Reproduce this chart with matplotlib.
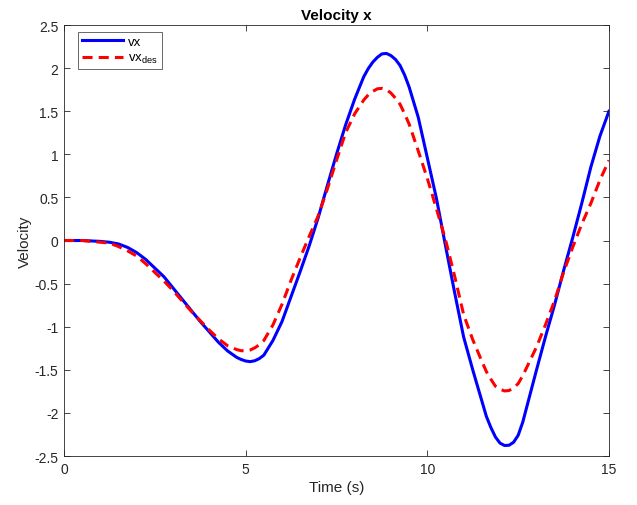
import matplotlib.pyplot as plt

# values (extra samples near the extremes)
t = [0.0, 0.25, 0.5, 0.75, 1.0, 1.25, 1.5, 1.75, 2.0, 2.25,
     2.5, 2.75, 3.0, 3.25, 3.5, 3.75, 4.0, 4.25, 4.5, 4.75,
     4.875, 5.0, 5.125, 5.25, 5.375, 5.5, 5.75, 6.0, 6.25, 6.5,
     6.75, 7.0, 7.25, 7.5, 7.75, 8.0, 8.25, 8.375, 8.5, 8.625,
     8.75, 8.875, 9.0, 9.125, 9.25, 9.375, 9.5, 9.75, 10.0, 10.25,
     10.5, 10.75, 11.0, 11.25, 11.5, 11.625, 11.75, 11.875, 12.0, 12.125,
     12.25, 12.375, 12.5, 12.625, 12.75, 13.0, 13.25, 13.5, 13.75, 14.0,
     14.25, 14.5, 14.75, 15.0]

vx = [0.00, 0.00, 0.00, -0.005, -0.01, -0.02, -0.04, -0.08, -0.14, -0.22,
      -0.32, -0.42, -0.55, -0.68, -0.81, -0.94, -1.06, -1.18, -1.28, -1.355,
      -1.38, -1.398, -1.405, -1.395, -1.37, -1.33, -1.16, -0.94, -0.65, -0.36,
      -0.06, 0.27, 0.64, 1.00, 1.34, 1.64, 1.90, 1.995, 2.07, 2.125,
      2.165, 2.17, 2.145, 2.10, 2.03, 1.92, 1.78, 1.43, 0.96, 0.49,
      -0.06, -0.60, -1.12, -1.50, -1.86, -2.04, -2.17, -2.28, -2.35, -2.378,
      -2.375, -2.34, -2.26, -2.11, -1.91, -1.51, -1.12, -0.75, -0.35, 0.03,
      0.43, 0.85, 1.21, 1.50]

vx_des = [0.00, 0.00, 0.00, -0.01, -0.02, -0.03, -0.07, -0.12, -0.18, -0.27,
          -0.37, -0.47, -0.58, -0.70, -0.82, -0.93, -1.04, -1.14, -1.22, -1.265,
          -1.278, -1.28, -1.27, -1.245, -1.21, -1.16, -0.98, -0.74, -0.46, -0.20,
          0.05, 0.29, 0.60, 0.93, 1.25, 1.47, 1.63, 1.69, 1.73, 1.76,
          1.765, 1.75, 1.71, 1.65, 1.58, 1.47, 1.35, 1.04, 0.72, 0.37,
          0.01, -0.41, -0.86, -1.15, -1.40, -1.52, -1.61, -1.69, -1.725, -1.745,
          -1.74, -1.71, -1.66, -1.57, -1.46, -1.24, -0.98, -0.70, -0.37, -0.08,
          0.19, 0.43, 0.70, 0.93]

x_ticks = [0, 5, 10, 15]
y_ticks = [-2.5, -2, -1.5, -1, -0.5, 0, 0.5, 1, 1.5, 2, 2.5]

plt.rcParams["font.family"] = ["Liberation Sans", "DejaVu Sans"]
AX_COLOR = "#262626"

fig = plt.figure(figsize=(6.37, 5.06), dpi=100)
ax = fig.add_axes([0.1005, 0.0968, 0.8555, 0.8518])

ax.plot(t, vx, color="blue", linewidth=2.2, label="vx")
ax.plot(t, vx_des, color="red", linewidth=2.2, linestyle=(0, (3.3, 2.0)),
        label="vx$_{\\mathregular{des}}$")

ax.set_xlim(0, 15)
ax.set_ylim(-2.5, 2.5)
ax.set_xticks(x_ticks)
ax.set_yticks(y_ticks)
ax.set_yticklabels([f"{v:g}" for v in y_ticks])

ax.tick_params(direction="in", top=True, right=True, length=4, width=0.6,
               colors=AX_COLOR, labelsize=10, pad=4)
for spine in ax.spines.values():
    spine.set_color(AX_COLOR)
    spine.set_linewidth(0.6)

ax.set_title("Velocity x", fontsize=11, fontweight="bold", pad=4)
ax.set_xlabel("Time (s)", fontsize=11, color=AX_COLOR, labelpad=3)
ax.set_ylabel("Velocity", fontsize=11, color=AX_COLOR, labelpad=2)

leg = ax.legend(loc="upper left", bbox_to_anchor=(0.025, 0.984), fontsize=9.5,
                frameon=True, fancybox=False, edgecolor=AX_COLOR,
                handlelength=3.1, handletextpad=0.4, borderpad=0.3,
                labelspacing=0.3, borderaxespad=0)
leg.get_frame().set_linewidth(0.6)

fig.savefig("out.png", dpi=100)
